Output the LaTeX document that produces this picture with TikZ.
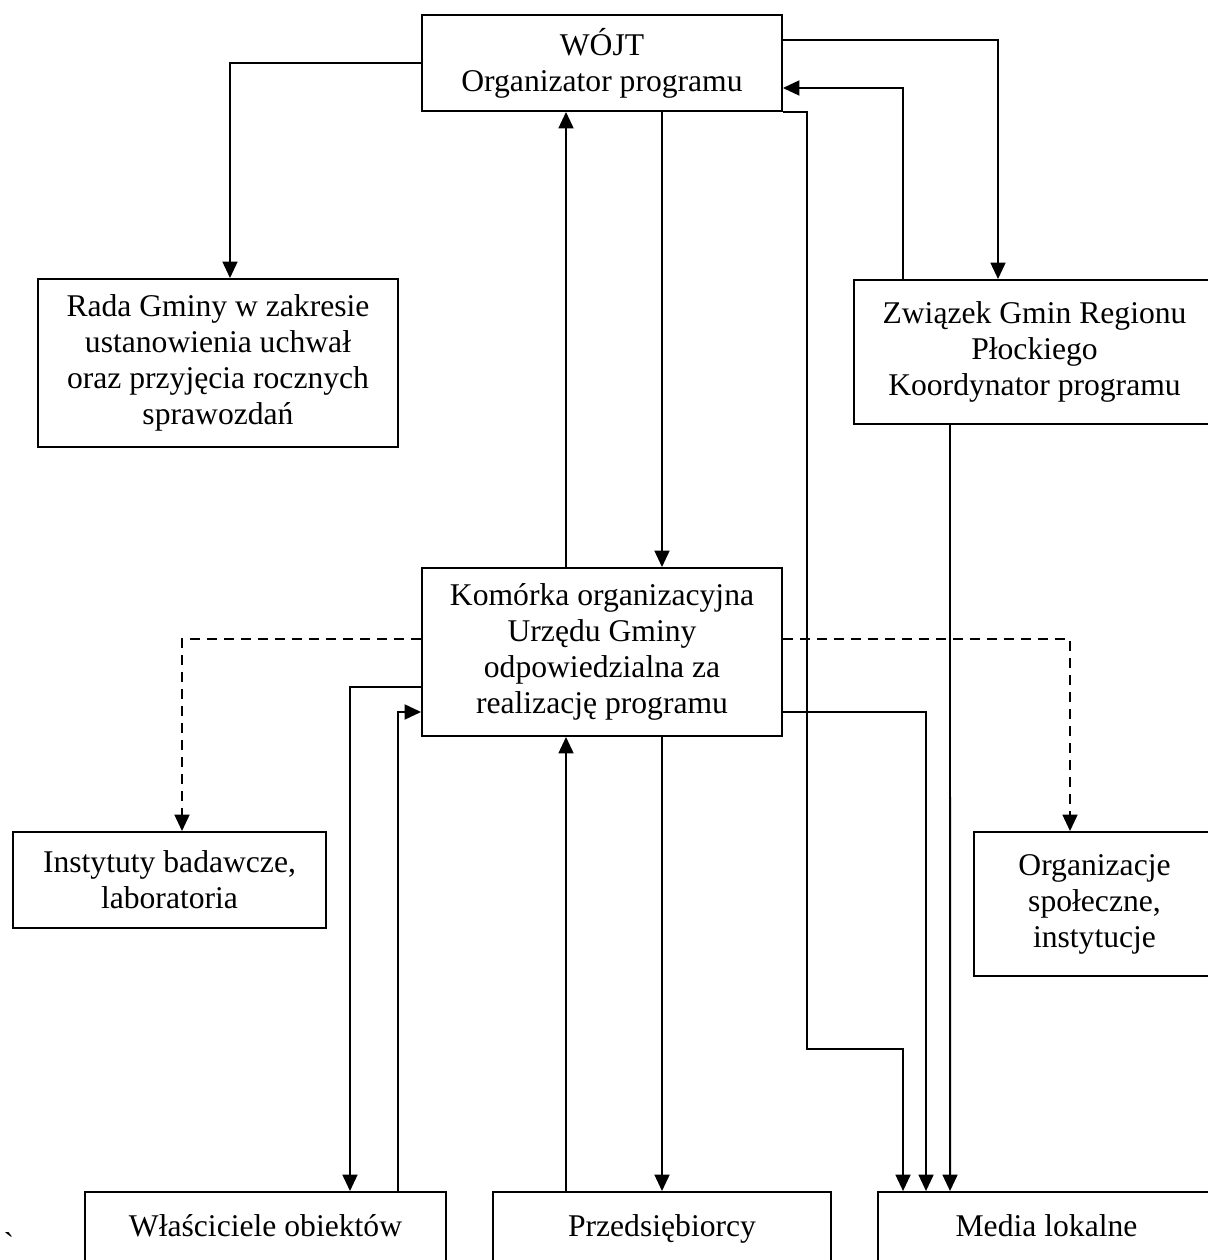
\documentclass[tikz,border=0pt]{standalone}
\usepackage{fontspec}
\setmainfont{Liberation Serif}
\usepackage{tikz}
\usetikzlibrary{positioning}
\usetikzlibrary{arrows.meta}

\begin{document}
\begin{tikzpicture}[x=0.02cm,y=-0.02cm,line width=1.1pt,
	box/.style={draw,align=center,inner sep=0pt,font=\fontsize{18}{20.5}\selectfont},
	low box/.style={box,minimum height=1.44cm,text height=0.44cm,text depth=0.12cm},
	arr/.style={-{Triangle[length=0.33cm,width=0.3cm]}},
	dash line/.style={dash pattern=on 0.2cm off 0.14cm}]

	\useasboundingbox (0,0) rectangle (1207,1260);

	%% Top Boxes %%
	\node [box,minimum width=7.2cm,minimum height=1.92cm] (wojt) at (602,63) {WÓJT\\Organizator programu};
	\node [box,minimum width=7.2cm,minimum height=3.36cm] (rada) at (218,363) {Rada Gminy w zakresie\\ustanowienia uchwał\\oraz przyjęcia rocznych\\sprawozdań};
	\node [box,minimum width=7.22cm,minimum height=2.88cm] (zwiazek) at (1034.5,352) {Związek Gmin Regionu\\Płockiego\\Koordynator programu};
	%% Middle Boxes %%
	\node [box,minimum width=7.2cm,minimum height=3.36cm] (komorka) at (602,652) {Komórka organizacyjna\\Urzędu Gminy\\odpowiedzialna za\\realizację programu};
	\node [box,minimum width=6.26cm,minimum height=1.92cm] (instytuty) at (169.5,880) {Instytuty badawcze,\\laboratoria};
	\node [box,minimum width=4.82cm,minimum height=2.88cm] (organizacje) at (1094.5,904) {Organizacje\\społeczne,\\instytucje};
	%% Bottom Boxes %%
	\node [low box,minimum width=7.22cm] (wlasciciele) at (265.5,1228) {Właściciele obiektów};
	\node [low box,minimum width=6.76cm] (przedsiebiorcy) at (662,1228) {Przedsiębiorcy};
	\node [low box,minimum width=6.74cm] (media) at (1046.5,1228) {Media lokalne};
	\node [font=\fontsize{18}{20.5}\selectfont,inner sep=0pt] (grave) at (9,1243) {\textasciigrave};

	%% Lines From Wojt %%
	\draw [arr] (wojt.west) -| ([xshift=0.24cm]rada.north);
	\draw [arr] ([yshift=0.46cm]wojt.east) -| ([xshift=-0.73cm]zwiazek.north);
	\draw [arr] ([xshift=-2.63cm]zwiazek.north) |- ([yshift=-0.5cm]wojt.east);
	\draw [arr] (wojt.south east) -- ++(24,0) -- ++(0,937) -| ([xshift=-2.87cm]media.north);
	\draw [arr] ([xshift=-0.72cm]komorka.north) -- ([xshift=-0.72cm]wojt.south);
	\draw [arr] ([xshift=1.2cm]wojt.south) -- ([xshift=1.2cm]komorka.north);
	%% Lines From Komorka %%
	\draw [arr] ([yshift=-1.2cm]komorka.east) -| ([xshift=-2.41cm]media.north);
	\draw [arr] ([xshift=-1.69cm]zwiazek.south) -- ([xshift=-1.93cm]media.north);
	\draw [arr] ([xshift=-1.92cm]przedsiebiorcy.north) -- ([xshift=-0.72cm]komorka.south);
	\draw [arr] ([xshift=1.2cm]komorka.south) -- (przedsiebiorcy.north);
	\draw [arr] ([yshift=-0.7cm]komorka.west) -| ([xshift=1.69cm]wlasciciele.north);
	\draw [arr] ([xshift=2.65cm]wlasciciele.north) |- ([yshift=-1.2cm]komorka.west);
	%% Dashed Lines %%
	\draw [arr,dash line] ([yshift=0.26cm]komorka.west) -| ([xshift=0.25cm]instytuty.north);
	\draw [arr,dash line] ([yshift=0.26cm]komorka.east) -| ([xshift=-0.49cm]organizacje.north);

\end{tikzpicture}
\end{document}
